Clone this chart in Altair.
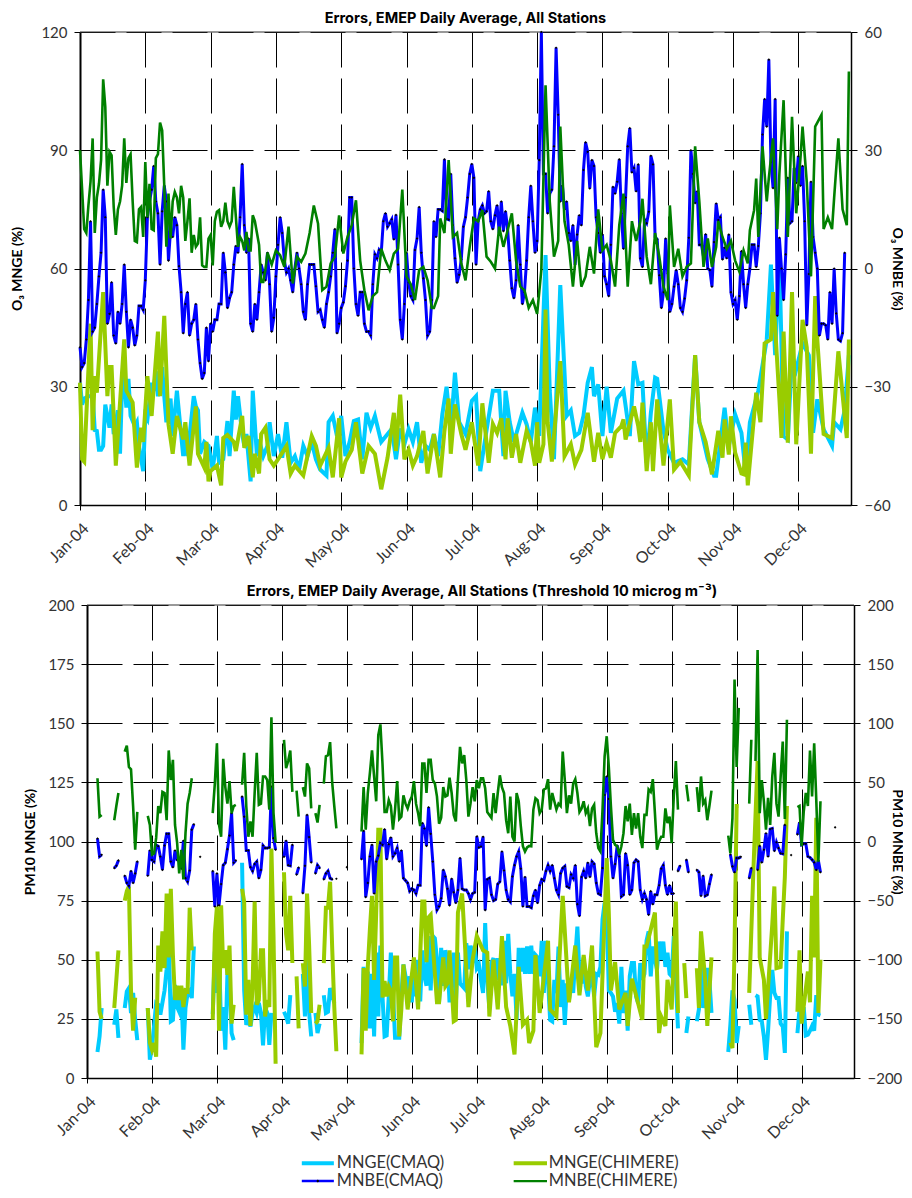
import altair as alt
import pandas as pd

MONTHS = ["Jan-04","Feb-04","Mar-04","Apr-04","May-04","Jun-04","Jul-04","Aug-04","Sep-04","Oct-04","Nov-04","Dec-04"]
TICK_DAYS = [i * 31 for i in range(12)]
LAST_DAY = 366

# ---- O3 panel ----
O3_MNBE_CMAQ = [-20,-25,-24,-18,-8,12,-16,-15,-9,-2,4,20,13,-14,-11.5,-3.5,-17,-19,-11,-14,-9,1,-11,-20,-13,-15,-19.5,-17,-9.5,-9.5,-10.5,-3,13,17,20,26,17,14,1,14.5,21,17,2,10,8,13,11,0.6,-6,-16.4,-9,-6,-17,-14,-13,-9,-18,-24,-28,-26.5,-15,-23.5,-14,-16,-13,-13,-9,-9,4,-1,-10,-7.5,-6,1,5.7,4,13,26.5,11,4,7.6,-14,-16,-9,-13,-6,1,-1,-3,4,-4,-16,-12.5,-2,6,13,9,2,-1,0,-3,-6,0,4,0,-4,-11,-13,-4,1,1,1,-4.5,-11,-10.5,-13,-15,-9,-6,-2,4,10,-16.4,-14,-10,-8.6,-4.5,2,18,18,0,-9,-12,-6,-6,-14,-16,-16,-17,-4,3.6,2.6,4.7,4,12,14,10.6,11.5,12.5,7.4,13.6,1,-13,-18,-9,4,-3.5,-7,-8,4.7,7.6,15.6,4,-2.5,-8,-17,-16,-8,12,8,15,15,14.6,27.7,12.6,12.4,24,11,2.6,-3.6,-1.6,2.3,10.6,13,18,24,26.5,23,1,12,15,16,14,14.5,19.6,12,10,13.5,16,9,17,9.5,14.5,10,2,-5,-7.5,-3,11,1,-9,-6,2,13,21,12,4,7,27.5,60,24,24,14,19,20,31,56,39,17,21,15,17,9,7,11,1,8.6,13.5,11,25,32,29.6,20.3,27.5,26,13,9,4,8.6,-2,-4,-7,6,20.7,19,22,27.7,14,5,18,31,35.6,24.4,25.5,19.6,26.4,2.6,0.4,12.4,11.5,14.4,28.6,26.4,8,7.4,-1.7,-10,-6,7.6,-1.2,-11,-9,-4.6,-0.4,-4,-10,-11,-7.6,-3,7.8,30,24,16.6,19.6,6,6,3,8.7,0,-0.4,-4.6,6.7,16.5,12.3,13,2.3,5.3,2.6,8.6,-6,-9,-8,-13,-7,4.4,-4,-10,-4,0,6,6,0.4,5.7,14,34,43,36,53,27,20.4,43,-12,7.8,0,-8,3.6,23,11.5,12,25.5,21.7,28.5,21,26,12,-14.4,-1.4,22,8,4,0,-17,-14,-14,-14.4,-18,-6,-14,0,-11.4,-18,-18.4,-16.4,4]

O3_MNBE_CHIMERE = [(0,30),(1,20),(2,10),(3,9),(4,16),(5,22),(6,33),(7,9),(8,18),(9,21.5),(10,27.5),(11,48),(12,41),(13,21),(14,29.6),(15,28.7),(16,15.6),(17,8.5),(18,15),(19,17),(20,21),(21,33),(22,21.7),(23,28),(24,29),(25,17),(26,7),(27,6.7),(28,15),(29,15.6),(30,8),(31,27),(32,13),(33,21.5),(34,10),(35,9.7),(36,28),(37,29),(38,37),(39,35),(40,21),(41,5.5),(42,19),(43,7.6),(44,17),(45,19.4),(46,18),(47,14),(48,21),(49,18),(50,7),(51,12),(52,17.8),(53,4),(54,8.5),(55,5.5),(56,6.3),(57,13),(58,0.8),(59,0.4),(60,0.4),(61,7.6),(62,8.5),(63,0.8),(64,12),(65,14.4),(66,14.8),(67,10.6),(68,12),(69,16.7),(70,12),(71,10.6),(72,12),(73,20.7),(74,13),(75,5.5),(76,8),(77,7),(78,4.6),(79,9.3),(80,4.6),(81,4.6),(82,13.5),(83,12),(84,9),(85,6),(86,-3.4),(87,-3.4),(88,-0.4),(89,4),(90,2.5),(91,1),(93,4.6),(95,3.4),(97,0.4),(99,10.6),(101,-3.8),(103,3),(105,1.7),(107,3.8),(109,9),(111,16),(113,11.4),(115,-5.5),(117,-4.6),(119,1.3),(121,3),(123,13.5),(125,3.8),(127,8),(129,11),(131,17.3),(133,2),(135,-5.5),(137,-10.6),(139,-7),(141,-6),(143,5),(145,2),(147,-0.4),(149,3.8),(151,5),(153,20),(155,-2),(157,-4),(159,-8),(161,-0.4),(163,0.4),(165,-3),(167,-10),(168,-10),(170,-7),(171,12.7),(173,9),(175,27.5),(177,8),(179,9),(181,1.3),(183,-3),(185,5.5),(187,12.7),(189,12),(191,14.8),(193,3),(195,1.7),(197,0),(199,10.6),(201,5.5),(203,9.7),(205,14),(207,2),(209,-4.6),(211,-5.5),(213,-10),(215,-8),(217,-11.5),(219,-0.4),(221,46.5),(223,17),(225,3),(227,7),(228,36),(230,12),(232,6),(234,-4.6),(236,7),(238,-4.6),(240,-2),(242,5.5),(244,-1.3),(246,15),(248,4.6),(250,6),(252,2),(254,-4.6),(256,11),(258,19),(260,-4.6),(262,12),(264,7),(266,12),(267,17.7),(269,3),(271,-4),(273,9),(275,3),(277,-4.6),(279,-8),(280,16),(282,0.4),(284,5),(286,-2),(288,0.4),(290,1.3),(292,31),(294,17),(296,0.4),(298,7.6),(300,0.4),(302,5.5),(303,12),(305,8),(307,5),(309,7),(311,2),(313,-0.8),(315,4.6),(317,1.3),(318,9.7),(320,14.8),(321,22.8),(322,8),(324,31),(326,17),(327,23),(329,33),(331,10),(332,24),(334,42.7),(336,8),(338,38.5),(340,14),(342,28),(343,36),(345,22),(347,-2),(349,36),(352,39),(353,10),(355,13),(357,10),(358,18),(360,33),(362,15),(364,11),(365,50)]

O3_MNGE_CMAQ = [(0,31),(1,25.5),(2,27),(4,27.6),(5,27.6),(6,28),(7,19),(8,18.8),(9,14),(10,14),(11,15),(12,25.5),(14,19.6),(15,25.5),(16,18),(18,24),(19,13),(20,31),(21,32),(22,24.7),(23,32),(24,22.6),(26,20),(27,21),(28,15),(30,8.6),(31,22.6),(32,21.7),(34,31),(35,29),(36,34),(37,27.6),(39,35),(40,27.6),(41,21),(43,27),(44,17.5),(46,29),(47,23.4),(49,12.4),(50,18),(51,12.4),(54,27.6),(55,25),(56,24),(57,13),(59,16),(61,15),(63,9),(65,17.5),(66,10.7),(68,11.6),(70,21.3),(71,12.4),(73,29),(74,21.7),(75,27.6),(77,18),(78,15),(79,18),(81,6),(82,29),(84,12.4),(85,16.6),(87,12.4),(89,15),(90,21),(92,12.4),(94,18),(96,12),(98,21),(100,10.7),(102,12.4),(104,9),(106,15),(108,12.4),(110,16),(112,11.6),(114,9),(117,7.5),(118,21),(120,22.6),(122,17.5),(124,22.6),(126,12.4),(128,16),(130,21.3),(132,21.7),(134,11.6),(136,23.4),(138,19.6),(140,22.6),(143,16),(148,19.3),(150,11.6),(152,19.4),(154,15.4),(156,19.2),(158,16),(160,21),(162,10.7),(164,15),(166,14),(168,18),(170,12.4),(172,23),(174,30),(176,19),(178,33.6),(180,21),(183,18),(186,26.4),(188,27.6),(190,8.6),(193,19),(196,29),(199,29),(201,12.4),(202,29),(204,21),(206,16),(210,23.4),(212,20.5),(214,16),(216,24.7),(218,17.5),(221,63.4),(223,29),(225,11.6),(228,55.8),(231,22.6),(233,24),(235,17.5),(237,18.3),(239,22.6),(241,31),(243,35),(244,27.6),(246,30.6),(248,17.5),(250,30),(252,18.3),(255,27),(258,29),(261,17.5),(263,36.5),(265,30.6),(267,31),(269,10.7),(271,23.4),(273,32.3),(274,32),(277,18.8),(279,14),(282,10.7),(286,11.6),(289,10.3),(292,38),(294,21),(298,11.6),(301,7.4),(302,7.4),(306,24.7),(308,15),(311,23),(314,18.3),(316,8),(318,21),(320,25),(322,29),(326,42),(328,61),(330,38),(332,63),(334,17.5),(336,16.6),(338,38),(340,34.4),(343,41),(346,38),(348,18.3),(350,26.8),(353,19.2),(357,15),(358,21),(361,19.2),(363,24),(365,38)]

O3_MNGE_CHIMERE = [(0,31),(1,11.6),(2,11),(5,46),(6,19),(7,32.7),(8,28.5),(11,54),(13,27.6),(14,35),(15,35),(17,10),(21,42),(22,29),(25,26),(27,9.5),(29,19.6),(30,16),(32,32.7),(34,22.6),(37,44),(38,27.6),(40,48),(42,20.5),(44,13),(46,22.6),(49,16.7),(50,21),(52,10),(55,25),(56,13),(59,9.5),(60,16),(61,6),(62,8.6),(65,10),(67,5),(68,17),(70,17.8),(73,16),(74,13.7),(77,22.6),(78,14.5),(80,17.5),(82,7),(83,13),(85,8),(86,18),(88,19.6),(90,11.6),(92,10),(95,12.4),(98,15),(100,8),(102,10),(106,7.5),(110,17.5),(112,15),(114,10),(118,14.5),(120,7),(123,22),(124,7),(126,11),(129,14),(131,21),(134,8),(137,15),(140,13),(143,4),(146,12),(149,23.4),(150,13.7),(152,28),(154,11.6),(156,14),(158,10),(160,12.4),(163,18.8),(165,8),(168,18),(171,7),(173,18.8),(175,27),(176,13),(178,25.5),(181,18),(183,14),(186,21),(189,10),(191,25.8),(194,10.7),(196,20.5),(198,18.3),(200,22),(202,11.6),(203,22),(205,12),(207,18),(209,10.7),(212,18.8),(214,16),(216,10),(217,21),(218,10.7),(220,15.4),(221,49.6),(222,21),(224,11),(228,36.5),(230,12.4),(233,15.4),(235,10.3),(238,14),(241,23.4),(244,11),(246,18.3),(248,11.6),(250,15.8),(252,12),(254,18.3),(257,20),(258,21.7),(259,16.6),(263,25),(265,20),(266,16),(267,26),(269,8.6),(271,21),(272,8.6),(274,26.8),(277,10),(280,26.8),(282,9),(285,11),(289,7.5),(292,38),(294,21),(297,16),(300,7.8),(303,18.8),(305,12),(306,21.7),(308,12.8),(309,22.5),(311,13.3),(314,8),(315,7.8),(316,15.8),(317,5),(321,28.5),(323,21),(325,41),(328,42),(329,54),(332,27),(333,17),(334,44),(336,15.8),(338,54),(340,15.4),(343,47),(345,40),(347,13),(349,53),(350,42),(353,18),(357,17),(360,39),(364,17),(365,42)]

# ---- PM10 panel (None marks a break in the series) ----
PM_MNBE_CMAQ = [(5,2.5),(6,-12.7),(7,-11.3),(8,None),(13,-22.5),(14,-20.5),(15,-16),(16,None),(18,-29),(19,-35),(20,-37.5),(21,-25),(22,-35),(23,-27),(24,-17),(25,None),(29,-29),(30,-7.6),(31,-15.5),(32,-17),(33,-3),(34,-4),(35,-12.7),(36,-24),(37,-3.4),(38,6.5),(39,6.5),(40,-17),(41,-21.7),(42,-7.6),(43,-15.5),(44,-16),(45,-23),(46,0.6),(47,-31),(48,-34),(49,-24.5),(50,10),(51,14.6),(52,None),(54,-13),(55,None),(60,-25),(61,-55),(62,-27),(63,-54),(64,-36),(65,-20),(66,-18),(67,-6.5),(68,5),(69,24),(70,-18),(71,-16),(72,None),(74,38),(75,21),(76,-7.6),(77,-7.6),(78,-21.7),(79,-25),(80,-19),(81,-17),(82,-31),(83,-24),(84,-3.4),(85,-5.6),(86,-5.6),(87,-5),(88,46.5),(89,2.8),(90,-7),(91,None),(94,-13),(95,0.6),(96,-20),(97,-20.5),(98,-2.8),(99,None),(100,-28),(101,-22),(102,None),(103,-43.7),(104,-20.6),(105,22.5),(106,3.7),(107,-17.7),(108,None),(109,-27),(110,-20),(111,-22.5),(112,None),(113,-32),(114,-27),(115,-25),(116,-31),(117,-32),(118,None),(119,-31.5),(120,None),(124,-21.7),(125,None),(131,-15),(132,9),(133,-47),(134,-35),(135,-12.7),(136,-2.8),(137,-44),(138,-17),(139,-12),(140,-1.4),(141,-2.8),(142,10.4),(143,-15),(144,-2.3),(145,3.4),(146,-12.7),(147,-10),(148,-5.6),(149,-17),(150,-7.6),(151,-31),(152,-33),(153,-35),(154,-42),(155,-40),(156,-41),(157,-44),(158,-37),(159,-37),(160,15.5),(161,11),(162,-3.7),(163,29),(164,6.5),(165,-17),(166,-45),(167,-58),(168,-55),(169,-48),(170,-24),(171,-29.6),(172,-40),(173,-54),(174,-31.5),(175,-43),(176,-52),(177,-41),(178,-14),(179,-40),(180,-41),(181,-41),(182,-44),(183,-49),(184,-44),(185,-43),(186,4.2),(187,-5),(188,-4.2),(189,4),(190,-58),(191,-32),(192,-31),(193,-45),(194,-50),(195,-49),(196,-36),(197,-34),(198,-8.5),(199,-24.5),(200,-41),(201,-49),(202,-51),(203,-29.6),(204,-20),(205,-12.7),(206,-8.5),(207,-23),(208,-55),(209,-30),(210,-55),(211,-55),(212,-56),(213,-46),(214,-41),(215,-52),(216,-37),(217,-32),(218,-33),(219,-25),(220,-20),(221,-25),(222,-20),(223,-31),(224,-41),(225,-45),(226,-27),(227,-22.5),(228,-21),(229,-38),(230,-39),(231,-28),(232,-31),(233,-20),(234,-53),(235,-63),(236,-30),(237,-25),(238,-31),(239,-18),(240,-30),(241,-17),(242,-19),(243,-35),(244,-44),(245,-45),(246,-22.5),(247,39.4),(248,55),(249,36),(250,-12.7),(251,-31),(252,-19),(253,-3.4),(254,-12.7),(255,-46.5),(256,-45),(257,-10),(258,-20),(259,-45),(260,-41),(261,-18),(262,-15.5),(263,-17),(264,-41),(265,-49),(266,-44),(267,-49),(268,-62),(269,-42),(270,-53),(271,-45),(272,-45),(273,-37),(274,-23),(275,-20),(276,-37),(277,-45),(278,-37),(279,-44),(280,-44),(281,None),(282,-25),(283,-20.5),(284,None),(286,-15.5),(287,-26),(288,None),(291,-24),(292,-26),(293,-46),(294,-29),(295,-46),(296,-45),(297,-36),(298,-28),(299,None),(307,-11),(308,-21),(309,-26),(310,-14),(311,-14),(312,-13),(313,None),(316,-31),(317,-22.5),(318,None),(320,-24),(321,-3.7),(322,-17.7),(323,-7),(324,7),(325,-12.7),(326,10.4),(327,11),(328,-8),(329,-0.6),(330,-5.6),(331,-10),(332,-10.4),(333,14),(334,None),(336,-11.5),(337,None),(339,6),(340,16),(341,-2.8),(342,-2),(343,-2),(344,-12.7),(345,-13.5),(346,-15.5),(347,-17.7),(348,-24),(349,-16),(350,-26),(351,None),(357,12)]

PM_MNBE_CHIMERE = [(5,53.5),(6,21),(7,22.5),(8,None),(13,18),(14,30),(15,41),(16,None),(18,76),(19,81),(20,63),(21,61),(22,30),(23,-7),(24,25),(25,None),(29,21.7),(30,14),(31,-11),(32,-10),(33,3),(34,30),(35,24),(36,42),(37,41),(38,18),(39,77),(40,52),(41,69),(42,14),(43,-1),(44,-27),(45,-7),(46,-32),(47,7),(48,32),(49,41),(50,53.5),(51,None),(60,24),(61,49),(62,83),(63,14),(64,4),(65,70),(66,46),(67,32),(68,51),(69,24),(70,30),(71,31),(72,None),(74,48),(75,75),(76,30),(77,4),(78,17),(79,4),(80,41),(81,75),(82,31),(83,32),(84,55),(85,55),(86,52),(87,27),(88,105),(89,24),(90,-1),(91,None),(94,86),(95,62),(96,68),(97,77),(98,42),(99,None),(100,43),(101,21),(102,None),(103,46),(104,38),(105,66),(106,62),(107,28),(108,None),(109,24),(110,16),(111,31),(112,None),(113,49),(114,72),(115,73),(116,84),(117,50),(118,30),(119,11),(120,None),(131,8.5),(132,46),(133,10),(134,41),(135,58),(136,77),(137,55),(138,34),(139,90),(140,99),(141,66),(142,25),(143,25),(144,35),(145,30),(146,10),(147,27),(148,51),(149,19),(150,21),(151,39),(152,32),(153,28),(154,34),(155,38),(156,51),(157,32),(158,24),(159,13),(160,66),(161,66),(162,41),(163,69),(164,69),(165,52),(166,49),(167,38),(168,15),(169,20),(170,46),(171,38),(172,39),(173,54),(174,41),(175,22.5),(176,17),(177,52),(178,80),(179,66),(180,73),(181,52),(182,21),(183,32),(184,46),(185,34),(186,52),(187,45),(188,53.5),(189,53.5),(190,45),(191,25),(192,22.5),(193,20),(194,41),(195,24),(196,41),(197,56),(198,46),(199,41),(200,18),(201,7),(202,38),(203,4),(204,0),(205,41),(206,34),(207,13),(208,-4),(209,-8.5),(210,-5),(211,-3.7),(212,-4),(213,27),(214,36.6),(215,35),(216,24),(217,27),(218,44),(219,45),(220,52.7),(221,27),(222,41),(223,34),(224,27),(225,32),(226,30),(227,76),(228,52),(229,24),(230,39),(231,32),(232,49),(233,52.7),(234,41),(235,25),(236,28),(237,34),(238,24),(239,28),(240,13),(241,28),(242,31),(243,7),(244,-5.6),(245,-8.5),(246,27),(247,72),(248,89),(249,63),(250,30),(251,1.4),(252,-2.8),(253,-4),(254,-11),(255,-4),(256,7),(257,30),(258,17),(259,32),(260,5.6),(261,24),(262,11),(263,24),(264,4),(265,-5.6),(266,22.5),(267,22.5),(268,44),(269,42),(270,52.7),(271,24),(272,-7),(273,0),(274,4),(275,4),(276,28),(277,15.5),(278,21),(279,-1.4),(280,38),(281,68),(282,27),(283,None),(286,48),(287,34),(288,None),(291,46),(292,25),(293,55),(294,32),(295,35),(296,18),(297,30),(298,43),(299,None),(306,5),(307,-10),(308,20),(309,137),(310,63),(311,113),(312,None),(316,32),(317,86),(318,None),(319,68),(320,162),(321,24),(322,52),(323,34),(324,10),(325,37),(326,14),(327,55),(328,75),(329,32),(330,21),(331,55),(332,84.5),(333,19),(334,103),(335,None),(339,29),(340,30),(341,-4),(342,25),(343,41),(344,30),(345,77),(346,38),(347,83),(348,35),(349,-17),(350,34)]

PM_MNGE_CMAQ = [(5,11),(6,17.6),(7,29.6),(8,None),(13,22.5),(14,29),(15,17),(16,None),(18,29.6),(19,36.6),(20,38),(21,27.5),(22,36),(23,24.6),(24,16),(25,None),(29,29.6),(30,7.7),(31,13),(32,22),(33,31.7),(34,31),(35,26.8),(37,37),(38,46),(39,58),(40,24),(41,24.6),(42,39.4),(43,30),(44,28),(45,37),(46,12),(47,29.6),(48,36),(49,37),(50,33.8),(51,55.6),(52,None),(60,27),(61,53.5),(62,36),(63,54),(64,20),(65,30),(66,12),(67,43.6),(68,43),(69,19),(70,16),(71,None),(74,91),(75,37),(76,22.5),(77,24.6),(78,21.8),(79,27.5),(80,30),(81,27.5),(82,31.7),(83,27.5),(84,13.8),(85,30),(86,27.5),(87,14),(88,27.5),(89,None),(94,28),(95,26),(96,23),(97,35),(98,None),(100,28),(101,None),(103,44),(104,26),(105,65),(106,27.5),(107,17.6),(108,None),(109,27.5),(110,19),(111,23),(112,None),(113,35),(114,27.5),(115,28),(116,38),(117,35),(118,31.7),(119,None),(131,14.8),(132,47),(133,21),(134,45),(135,21),(136,44),(137,17.6),(138,53),(139,26),(140,56),(141,34.5),(142,17.6),(143,18),(144,34.5),(145,53),(146,36),(147,17),(148,17),(149,17),(150,34.5),(151,48),(152,43),(153,36),(154,43),(155,32),(156,48.6),(157,34.5),(158,50),(159,32.4),(160,54),(161,43),(162,39),(163,60),(164,37),(165,60),(166,59),(167,50),(168,32),(169,55),(170,39),(171,54),(172,50),(173,32),(174,41),(175,53),(176,31),(177,53),(178,40),(180,38),(181,57),(182,46),(183,56),(184,48.6),(185,55.6),(186,46.5),(187,48),(188,41.5),(189,36),(190,65.5),(191,41.5),(192,29.6),(193,48.6),(194,50.7),(195,41.5),(196,50.7),(197,40),(198,40),(199,58),(200,40),(201,61),(202,44),(203,34.5),(204,44),(205,24.6),(206,55),(207,45),(208,55),(209,44),(210,55.6),(211,44),(212,56),(213,44),(214,52),(215,51),(216,43),(217,58),(218,36),(219,58),(220,41.5),(221,24.6),(222,24),(223,41.5),(224,36),(225,55.6),(226,30),(227,41.5),(228,22.5),(229,40),(230,33),(231,40),(232,36),(233,51),(234,64),(235,44),(236,40),(237,51),(238,38.7),(239,34.5),(240,41.5),(241,43),(242,34.5),(243,44),(244,43.6),(245,47),(246,67),(247,74),(248,70),(249,37),(250,36),(251,34.5),(252,28),(253,31.7),(254,23),(255,47),(256,27.5),(257,37),(258,20),(259,43),(260,48.6),(261,48.6),(262,34.5),(263,31.7),(264,48.6),(265,41.5),(266,44),(267,58),(268,62),(269,43),(270,55.6),(271,50),(272,45.7),(273,57.7),(274,50),(275,57.7),(276,47),(277,53),(278,44),(279,43),(280,60),(281,41.5),(282,21),(283,None),(286,19),(287,26),(288,None),(291,24),(292,29),(293,55.6),(294,29.6),(295,36),(296,46.5),(297,41.5),(298,27.5),(299,None),(306,11),(307,22.5),(308,37),(309,33),(310,14.8),(311,22),(312,None),(316,31),(317,22.5),(318,None),(319,35),(320,34.5),(321,24.6),(322,24),(323,17.6),(324,7.7),(325,20),(326,35),(327,45.7),(328,36),(329,33.8),(330,33.8),(331,23),(332,21.8),(333,10.6),(334,62),(335,None),(339,19),(340,29),(341,24.6),(342,30),(343,18),(344,18.3),(345,20),(346,22),(347,20),(348,35),(349,26.8),(350,26.5)]

PM_MNGE_CHIMERE = [(5,53.5),(6,28),(7,25),(8,None),(13,29.6),(14,41.5),(15,54),(16,None),(18,75),(19,79),(20,81),(21,37),(22,20),(23,34),(24,None),(29,29.6),(30,14.8),(31,12),(32,14.8),(33,9),(34,56),(35,45),(36,62),(37,46.5),(38,78),(39,51),(40,80),(41,52),(42,33),(43,39),(44,33),(45,39),(46,30),(47,37),(48,36.6),(49,72),(50,54),(51,None),(60,24.6),(61,61),(62,72.5),(63,20),(64,73),(65,46.5),(66,54),(67,43.6),(68,56),(69,23),(70,31),(71,None),(74,80),(75,74.6),(76,26.8),(77,41.5),(78,22),(79,38.7),(80,74.6),(81,31),(82,33),(83,54),(84,54),(85,26),(86,33),(87,30),(88,97),(89,60),(90,6),(91,None),(94,87),(95,61),(96,54),(97,77),(98,48.6),(99,None),(100,43),(101,21),(102,None),(103,48.6),(104,38.7),(105,78),(106,56),(107,27.5),(108,None),(109,23),(110,24),(111,31),(112,None),(113,48.6),(114,72),(115,72),(116,83),(117,55),(118,30),(119,11.3),(120,None),(131,10),(132,46.5),(133,20),(134,47),(135,63),(136,77),(137,41.5),(138,70),(139,105),(140,105),(141,34),(142,41),(143,34.5),(144,38.7),(145,37),(146,24),(147,51),(148,51),(149,17.6),(150,29),(151,48),(153,29),(156,51),(158,29),(160,74.6),(161,74.6),(162,49),(163,68),(164,69),(166,44),(167,32),(168,32),(170,51),(171,38.7),(172,40),(173,54),(175,24),(176,24.6),(177,70),(179,78),(182,30),(184,50),(186,60),(189,54),(191,53),(192,26),(194,50),(196,29),(198,60),(200,30),(202,22),(204,10),(206,47),(208,22.5),(210,24.6),(211,14.8),(213,20),(214,52),(216,27.5),(220,58),(221,29),(224,26),(227,77),(230,32),(233,56),(235,35),(237,52),(239,37),(241,56),(243,13),(245,19),(248,93),(249,70),(250,37),(252,49),(254,29),(257,36),(258,22),(260,42),(262,35),(265,24.6),(266,55.6),(267,55.6),(271,70),(273,19),(274,26),(276,22),(277,41.5),(279,29),(281,74.6),(282,27.5),(283,None),(285,48.6),(286,33.8),(287,None),(291,46.5),(292,29.6),(293,62),(295,41.5),(296,22),(298,51),(299,None),(307,15),(308,12.7),(309,55.6),(310,115),(311,115),(312,None),(316,36),(318,88),(320,134),(321,51),(323,41.5),(324,25),(327,65),(328,81),(329,46.5),(331,47),(332,67),(333,85),(334,115),(335,None),(339,28),(340,54),(341,23),(344,45),(345,32),(346,77),(347,51),(348,110),(349,27.5),(350,50)]

LEGEND_ROW_VALUES = [-36, -43.6]
LEGEND_NAMES = ["MNGE(CMAQ)", "MNGE(CHIMERE)", "MNBE(CMAQ)", "MNBE(CHIMERE)"]
LEGEND_COLORS = ["#00CCFF", "#99CC00", "#0000FF", "#008000"]
LEGEND_WIDTHS = [4, 4, 2.5, 2.2]
LEGEND_START = [102.5, 203.6, 102.5, 203.6]
LEGEND_END = [117.8, 219.5, 117.8, 219.5]
LEGEND_TEXT = [119.2, 220.3, 119.2, 220.3]
LEGEND_ROWS = [LEGEND_ROW_VALUES[0], LEGEND_ROW_VALUES[0], LEGEND_ROW_VALUES[1], LEGEND_ROW_VALUES[1]]

FONT = "Lato"
TITLE_FONT = "Inter"
TEXT = "#333333"
GRID_DASH = [35, 11]


def frame(pairs):
    return pd.DataFrame(pairs, columns=["day", "v"]).astype({"v": float})


def panel(width, xrange, left_axis, right_axis, lpairs, rpairs, lscale, rscale, title, title_dx, left_offset, legend):
    xsc = alt.Scale(domain=[0, LAST_DAY], range=xrange, nice=False)
    x_axis = alt.Axis(
        values=TICK_DAYS,
        labelExpr="['" + "','".join(MONTHS) + "'][round(datum.value/31)]",
        labelAngle=315, labelAlign="right", labelBaseline="top", labelPadding=10,
        labelFont=FONT, labelFontSize=16, labelColor=TEXT, title=None,
        grid=True, gridDash=GRID_DASH, gridColor="#000000", gridOpacity=1, gridWidth=1,
        tickColor="#000000", tickSize=5, domainColor="#000000", domainWidth=1.5,
        labelOverlap=False, labelFlush=False,
    )
    X = alt.X("day:Q", scale=xsc, axis=x_axis)
    X0 = alt.X("day:Q", scale=xsc, axis=None)

    def yl(ax=None):
        return alt.Y("v:Q", scale=alt.Scale(domain=lscale, nice=False), axis=ax)

    def yr(ax=None):
        return alt.Y("v:Q", scale=alt.Scale(domain=rscale, nice=False), axis=ax)

    common = dict(labelFont=FONT, labelFontSize=15, labelColor=TEXT, tickColor="#000000", tickSize=6,
                  titleFont=FONT, titleFontSize=14, titleFontWeight="bold", titleColor="#000000",
                  labelPadding=7, domainColor="#000000")
    lax = alt.Axis(values=left_axis[0], title=left_axis[1], orient="left", grid=True, gridDash=GRID_DASH,
                   gridColor="#000000", gridOpacity=1, gridWidth=1, domainWidth=2, offset=left_offset,
                   titleX=left_axis[2], **common)
    rax = alt.Axis(values=right_axis[0], title=right_axis[1], orient="right", grid=False, domainWidth=1.5,
                   titleX=right_axis[2], **common)

    layers = []
    layers.append(alt.Chart(frame(lpairs[0])).mark_line(color="#00CCFF", strokeWidth=4).encode(x=X, y=yl(lax)))
    layers.append(alt.Chart(pd.DataFrame({"a": [0], "b": [LAST_DAY], "v": [lscale[1]]})).mark_rule(color="#333333", strokeWidth=1).encode(
        x=alt.X("a:Q", scale=xsc, axis=None), x2="b:Q", y=yl()))
    layers.append(alt.Chart(frame(lpairs[1])).mark_line(color="#99CC00", strokeWidth=4).encode(x=X0, y=yl()))
    if legend:
        ldf = pd.DataFrame({"name": LEGEND_NAMES, "color": LEGEND_COLORS, "w": LEGEND_WIDTHS, "s": LEGEND_START,
                            "e": LEGEND_END, "t": LEGEND_TEXT, "v": LEGEND_ROWS})
        layers.append(alt.Chart(ldf).mark_rule().encode(
            x=alt.X("s:Q", scale=xsc, axis=None), x2="e:Q", y=yl(),
            color=alt.Color("color:N", scale=None), strokeWidth=alt.StrokeWidth("w:Q", scale=None)))
        layers.append(alt.Chart(ldf).mark_text(align="left", baseline="middle", font=FONT, fontSize=16.4, color=TEXT).encode(
            x=alt.X("t:Q", scale=xsc, axis=None), y=yl(), text="name:N"))
        layers.append(alt.Chart(ldf[ldf.name == "MNBE(CMAQ)"].assign(m=lambda d: (d.s + d.e) / 2)).mark_point(
            filled=True, color="#000000", shape="diamond", size=9, opacity=1).encode(
            x=alt.X("m:Q", scale=xsc, axis=None), y=yl()))

    bdf = frame(rpairs[0])
    layers.append(alt.Chart(bdf).mark_line(color="#0000FF", strokeWidth=3).encode(x=X0, y=yr(rax)))
    layers.append(alt.Chart(bdf.dropna()).mark_point(filled=True, color="#000000", shape="diamond", size=7, opacity=1).encode(x=X0, y=yr()))
    layers.append(alt.Chart(frame(rpairs[1])).mark_line(color="#008000", strokeWidth=2.6).encode(x=X0, y=yr()))

    return alt.layer(*layers).resolve_scale(y="independent").resolve_axis(x="independent").properties(
        width=width, height=473,
        title=alt.TitleParams(title, font=TITLE_FONT, fontSize=14.5, fontWeight="bold", color="#000000", anchor="middle",
                              offset=-1, dx=title_dx),
    )


top = panel(771, [0, 771],
            ([0, 30, 60, 90, 120], "O\u2083 MNGE (%)", -56),
            ([-60, -30, 0, 30, 60], "O\u2083 MNBE (%)", 38),
            [O3_MNGE_CMAQ, O3_MNGE_CHIMERE],
            [list(zip(range(len(O3_MNBE_CMAQ)), O3_MNBE_CMAQ)), O3_MNBE_CHIMERE],
            [0, 120], [-60, 60],
            "Errors, EMEP Daily Average, All Stations", 0, 0, False)

bottom = panel(774, [7, 774],
            ([0, 25, 50, 75, 100, 125, 150, 175, 200], "PM10 MNGE (%)", -50),
            ([-200, -150, -100, -50, 0, 50, 100, 150, 200], "PM10 MNBE (%)", 35),
            [PM_MNGE_CMAQ, PM_MNGE_CHIMERE],
            [PM_MNBE_CMAQ, PM_MNBE_CHIMERE],
            [0, 200], [-200, 200],
            "Errors, EMEP Daily Average, All Stations (Threshold 10 microg m\u207B\u00B3)", 15, -7, True)

chart = alt.vconcat(top, bottom, spacing=100, bounds="flush").properties(
    padding={"left": 2, "top": 2, "right": 0, "bottom": 0}, background="white"
).configure_view(stroke=None)

chart.save("out.html", embed_options={"renderer": "svg", "actions": False})
